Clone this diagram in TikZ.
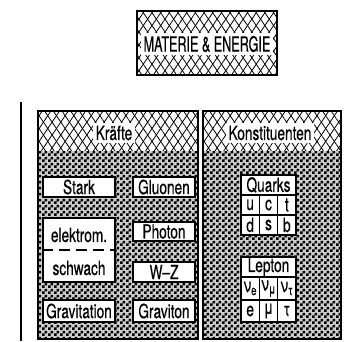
\documentclass[tikz,border=0pt]{standalone}
\usepackage{fontspec}
\setmainfont{TeX Gyre Heros}[FakeStretch=0.7, FakeBold=0.4]
\newfontfamily\titlefont{TeX Gyre Heros}[FakeStretch=0.6, FakeBold=0.4]
\usetikzlibrary{patterns, patterns.meta, positioning}

% fine checker for the panel bodies
\pgfdeclarepatternformonly{finecheck}{\pgfpointorigin}{\pgfqpoint{6pt}{6pt}}%
  {\pgfqpoint{6pt}{6pt}}{%
  \pgfpathrectangle{\pgfpointorigin}{\pgfqpoint{3pt}{3pt}}%
  \pgfpathrectangle{\pgfqpoint{3pt}{3pt}}{\pgfqpoint{3pt}{3pt}}%
  \pgfusepath{fill}}

\tikzset{
  mesha/.style={pattern={Lines[angle=56,distance=7.2pt,line width=.8pt]}},
  meshb/.style={pattern={Lines[angle=-56,distance=7.2pt,line width=.8pt]}},
  body/.style={pattern=finecheck, pattern color=black},
}

\begin{document}
\begin{tikzpicture}[
    x=1pt, y=-1pt,
    txt/.style={font=\fontsize{19.5}{21}\selectfont},
    frame/.style={draw, line width=1.2pt},
    box/.style={draw, line width=1.1pt, fill=white, inner sep=0pt, txt},
    head/.style={fill=white, inner sep=3pt, txt},
    cell/.style={box, minimum width=18.33pt}
  ]
  \useasboundingbox (0,0) rectangle (353,341);

  % title box
  \fill[mesha] (137,11) rectangle (277,75);
  \fill[meshb] (137,11) rectangle (277,75);
  \draw[frame] (137,11) rectangle (277,75);
  \node[fill=white, inner sep=3pt, font=\titlefont\fontsize{21}{23}\selectfont]
    (title) at (207,44) {MATERIE \& ENERGIE};

  \draw[line width=1.3pt] (21,102) -- (21,341);

  % panels
  \foreach \xa/\xb in {38/198, 203/341} {
    \fill[mesha] (\xa,111) rectangle (\xb,151);
    \fill[meshb] (\xa,111) rectangle (\xb,151);
    \fill[black!20] (\xa,151) rectangle (\xb,339);
    \fill[body] (\xa,151) rectangle (\xb,339);
    \draw[frame] (\xa,111) rectangle (\xb,339);
  }
  \node[head] (kraefte) at (114,133) {Kräfte};
  \node[head] (konst) at (270,133) {Konstituenten};

  % forces
  \node[box, minimum width=72pt, minimum height=20pt] (stark) at (79,187) {Stark};
  \node[box, minimum width=62pt, minimum height=20pt] (gluon) at (164,187) {Gluonen};
  \node[box, minimum width=72pt, minimum height=64pt] (ew) at (79,250) {};
  \node[txt] (elektrom) at (79,235) {elektrom.};
  \node[txt] (schwach) at (79,268) {schwach};
  \draw[line width=1.1pt, dash pattern=on 11pt off 6pt] (ew.west) -- (ew.east);
  \node[box, minimum width=62pt, minimum height=19pt] (photon) at (164,231.5) {Photon};
  \node[box, minimum width=62pt, minimum height=20pt] (wz) at (164,272) {W--Z};
  \node[box, minimum width=72pt, minimum height=22pt] (grav) at (79,311) {Gravitation};
  \node[box, minimum width=62pt, minimum height=22pt] (gravi) at (164,311) {Graviton};

  % quarks
  \node[box, minimum width=55pt, minimum height=20pt] (quarks) at (268.5,185) {Quarks};
  \node[cell, minimum height=20pt] (u) at (250.17,205) {u};
  \node[cell, minimum height=20pt] (c) at (268.5,205) {c};
  \node[cell, minimum height=20pt] (t) at (286.83,205) {t};
  \node[cell, minimum height=20pt] (d) at (250.17,225) {d};
  \node[cell, minimum height=20pt] (s) at (268.5,225) {s};
  \node[cell, minimum height=20pt] (b) at (286.83,225) {b};

  % leptons
  \node[box, minimum width=55pt, minimum height=20pt] (lepton) at (268.5,267) {Lepton};
  \node[cell, minimum height=23pt] (nue) at (250.17,288.5) {ν\textsubscript{e}};
  \node[cell, minimum height=23pt] (num) at (268.5,288.5) {ν\textsubscript{μ}};
  \node[cell, minimum height=23pt] (nut) at (286.83,288.5) {ν\textsubscript{τ}};
  \node[cell, minimum height=22pt] (e) at (250.17,311) {e};
  \node[cell, minimum height=22pt] (mu) at (268.5,311) {μ};
  \node[cell, minimum height=22pt] (tau) at (286.83,311) {τ};
\end{tikzpicture}
\end{document}
